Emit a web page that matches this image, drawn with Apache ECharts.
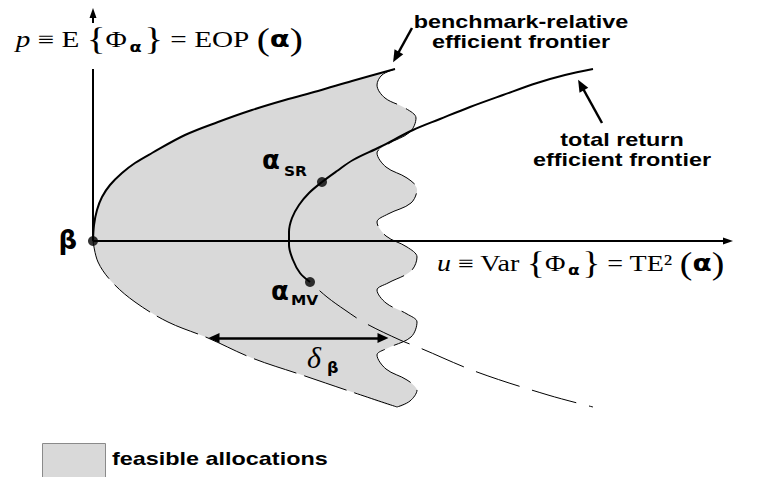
<!DOCTYPE html>
<html>
<head>
<meta charset="utf-8">
<script src="https://cdn.jsdelivr.net/npm/echarts@6/dist/echarts.min.js"></script>
<style>
  html, body { margin: 0; padding: 0; background: #ffffff; }
  #chart { width: 757px; height: 477px; }
</style>
</head>
<body>
<div id="chart"></div>
<script>
// Mean / tracking-error plane: u = Var{Φα} on x, p = E{Φα} on y, benchmark β at the origin.

// Benchmark-relative efficient frontier (upper branch, from β outwards)
const benchmarkUpper = [
  [0, 0], [0.02, 0.32], [0.08, 0.62], [0.18, 0.88], [0.34, 1.12], [0.58, 1.36],
  [0.84, 1.56], [1.18, 1.76], [1.84, 2.12], [2.5, 2.38], [3.18, 2.62],
  [3.84, 2.82], [4.5, 3.0], [5.18, 3.2], [6.04, 3.44]
];

// Ragged right-hand edge of the feasible set, top to bottom
const feasibleRightEdge = [
  [6.04, 3.44], [5.78, 3.32], [5.68, 3.12], [5.84, 2.86], [6.24, 2.66], [6.46, 2.46],
  [6.34, 2.18], [5.9, 1.94], [5.68, 1.76], [5.86, 1.48], [6.28, 1.26], [6.48, 1.04],
  [6.36, 0.76], [5.9, 0.54], [5.68, 0.38], [5.86, 0.1], [6.28, -0.12], [6.48, -0.32],
  [6.36, -0.6], [5.9, -0.84], [5.68, -0.98], [5.86, -1.24], [6.28, -1.46], [6.48, -1.62],
  [6.36, -1.92], [5.9, -2.14], [5.68, -2.28], [5.86, -2.56], [6.28, -2.78], [6.48, -2.98],
  [6.34, -3.2], [6.08, -3.32]
];

// Lower (inefficient) branch of the benchmark-relative frontier, back to β
const benchmarkLower = [
  [6.08, -3.32], [5.18, -3.02], [4.18, -2.68], [3.18, -2.34], [2.3, -1.94],
  [1.5, -1.62], [0.84, -1.22], [0.38, -0.82], [0.1, -0.42], [0, 0]
];

// Special allocations
const benchmarkPoint = [0, 0];
const mvPoint = [4.34, -0.82];   // global minimum-variance allocation
const srPoint = [4.58, 1.18];    // maximum Sharpe-ratio allocation

// Total-return efficient frontier: efficient part from α_MV upwards
const totalUpper = [
  mvPoint, [4.14, -0.64], [4.0, -0.38], [3.92, -0.08], [3.92, 0.18], [3.98, 0.46],
  [4.12, 0.72], [4.32, 0.96], srPoint, [4.88, 1.4], [5.2, 1.62], [5.74, 1.88],
  [6.4, 2.22], [6.94, 2.44], [7.54, 2.68], [8.2, 2.92], [8.88, 3.16], [9.44, 3.32], [10.0, 3.44]
];
// ...and its inefficient part below α_MV
const totalLower = [
  mvPoint, [4.68, -1.12], [5.04, -1.38], [5.44, -1.64], [6.14, -1.98],
  [6.54, -2.14], [7.68, -2.62], [9.1, -3.08], [10.0, -3.32]
];

// Axis extents and annotation arrows (same u/p units)
const uAxisEnd = [12.7, 0];
const pAxisEnd = [0, 4.56];
const deltaSpan = [[2.42, -1.94], [5.8, -1.94]];
const benchmarkPointer = [[6.38, 4.26], [6.06, 3.68]];
const totalPointer = [[10.18, 2.36], [9.76, 3.12]];

const feasibleRegion = benchmarkUpper
  .concat(feasibleRightEdge.slice(1))
  .concat(benchmarkLower.slice(1));

const serif = '"Liberation Serif", "Times New Roman", serif';
const sans = '"Liberation Sans", Arial, sans-serif';
const greek = '"DejaVu Sans", sans-serif';
const INK = '#000000';
const SHADE = '#d9d9d9';

function arrow(from, to, width, head, both) {
  return [
    { coord: from, symbol: both ? 'triangle' : 'none', symbolSize: head,
      lineStyle: { color: INK, width: width, type: 'solid' } },
    { coord: to, symbol: 'triangle', symbolSize: head }
  ];
}

function curve(name, data, width, dash, z, offset) {
  return {
    name: name, type: 'line', data: data, smooth: 0.35, symbol: 'none',
    clip: false, silent: true, z: z,
    lineStyle: { color: INK, width: width, type: dash || 'solid', dashOffset: offset || 0 }
  };
}

const mathRich = {
  it:  { font: 'italic 23px ' + serif, color: INK },
  n:   { font: '23px ' + serif, color: INK },
  sub: { font: 'bold 14px ' + greek, color: INK, padding: [16, 2, 0, 2] },
  b:   { font: 'bold 23px ' + greek, color: INK }
};

function text(x, y, str, font, extra) {
  const el = {
    type: 'text', x: x, y: y, z: 100, silent: true,
    style: Object.assign({
      text: str, font: font, fill: INK,
      align: 'left', verticalAlign: 'middle',
      textAlign: 'left', textVerticalAlign: 'middle'
    }, extra && extra.style)
  };
  if (extra && extra.scaleX) el.scaleX = extra.scaleX;
  return el;
}

const chart = echarts.init(document.getElementById('chart'), null, { renderer: 'svg' });

chart.setOption({
  animation: false,
  backgroundColor: '#ffffff',
  grid: { left: 0, right: 0, top: 0, bottom: 0 },
  xAxis: { type: 'value', min: -1.86, max: 13.28, show: false },
  yAxis: { type: 'value', min: -4.72, max: 4.82, show: false },
  series: [
    {
      name: 'feasible allocations', type: 'custom', silent: true, z: 1,
      data: [[0, 0]],
      renderItem: function (params, api) {
        return {
          type: 'polygon',
          shape: { points: feasibleRegion.map(function (pt) { return api.coord(pt); }), smooth: 0.3 },
          style: { fill: SHADE, stroke: 'none' }
        };
      }
    },
    curve('feasible edge', feasibleRightEdge, 1, [55, 10], 2),
    curve('benchmark lower', benchmarkLower, 1, [45, 8], 2),
    curve('benchmark-relative efficient frontier', benchmarkUpper, 2, 'solid', 3),
    curve('total return efficient frontier', totalUpper, 2, 'solid', 3),
    curve('total return inefficient', totalLower, 1, [46, 13], 3, 46),
    {
      name: 'axes', type: 'line', data: [benchmarkPoint], symbol: 'none', z: 4, silent: true,
      markLine: {
        silent: true, animation: false,
        label: { show: false },
        emphasis: { disabled: true },
        data: [
          arrow(benchmarkPoint, uAxisEnd, 2, [7, 10], false),
          arrow(benchmarkPoint, pAxisEnd, 2, [7, 10], false),
          arrow(deltaSpan[0], deltaSpan[1], 2.5, [10, 11], true),
          arrow(benchmarkPointer[0], benchmarkPointer[1], 2.5, [10, 12], false),
          arrow(totalPointer[0], totalPointer[1], 2.5, [10, 12], false)
        ]
      }
    },
    {
      name: 'allocations', type: 'scatter', data: [benchmarkPoint, srPoint, mvPoint],
      symbol: 'circle', symbolSize: 10, itemStyle: { color: INK }, z: 6, silent: true, clip: false
    }
  ],
  graphic: [
    text(12, 46, '{it|p}{n| ≡ E }{{n|Φ}{sub|α}}{n| = EOP }({b|α})', '31px ' + serif, {
      scaleX: 1.27,
      style: { rich: mathRich, backgroundColor: '#ffffff', padding: [1, 3, 14, 3] }
    }),
    text(437, 263, '{it|u}{n| ≡ Var }{{n|Φ}{sub|α}}{n| = TE² }({b|α})', '31px ' + serif, {
      scaleX: 1.22,
      style: { rich: mathRich }
    }),
    text(77, 240, 'β', 'bold 26px ' + greek, { style: { align: 'right', textAlign: 'right' } }),
    text(262, 160, 'α', 'bold 26px ' + greek),
    text(284, 171, 'SR', 'bold 14px ' + greek, { scaleX: 1.1 }),
    text(271, 291, 'α', 'bold 26px ' + greek),
    text(291, 300, 'MV', 'bold 14px ' + greek, { scaleX: 1.1 }),
    text(307, 357, 'δ', 'italic 30px ' + serif),
    text(327, 367, 'β', 'bold 16px ' + greek),
    text(521, 32, 'benchmark-relative\nefficient frontier', 'bold 18px ' + sans, {
      scaleX: 1.3, style: { align: 'center', textAlign: 'center', lineHeight: 20 }
    }),
    text(622, 150, 'total return\nefficient frontier', 'bold 18px ' + sans, {
      scaleX: 1.3, style: { align: 'center', textAlign: 'center', lineHeight: 20 }
    }),
    {
      type: 'rect', z: 100, silent: true,
      shape: { x: 42.5, y: 443.5, width: 63, height: 40 },
      style: { fill: SHADE, stroke: '#8a8a8a', lineWidth: 1 }
    },
    text(112, 459, 'feasible allocations', 'bold 18px ' + sans, { scaleX: 1.3 })
  ]
});
</script>
</body>
</html>
